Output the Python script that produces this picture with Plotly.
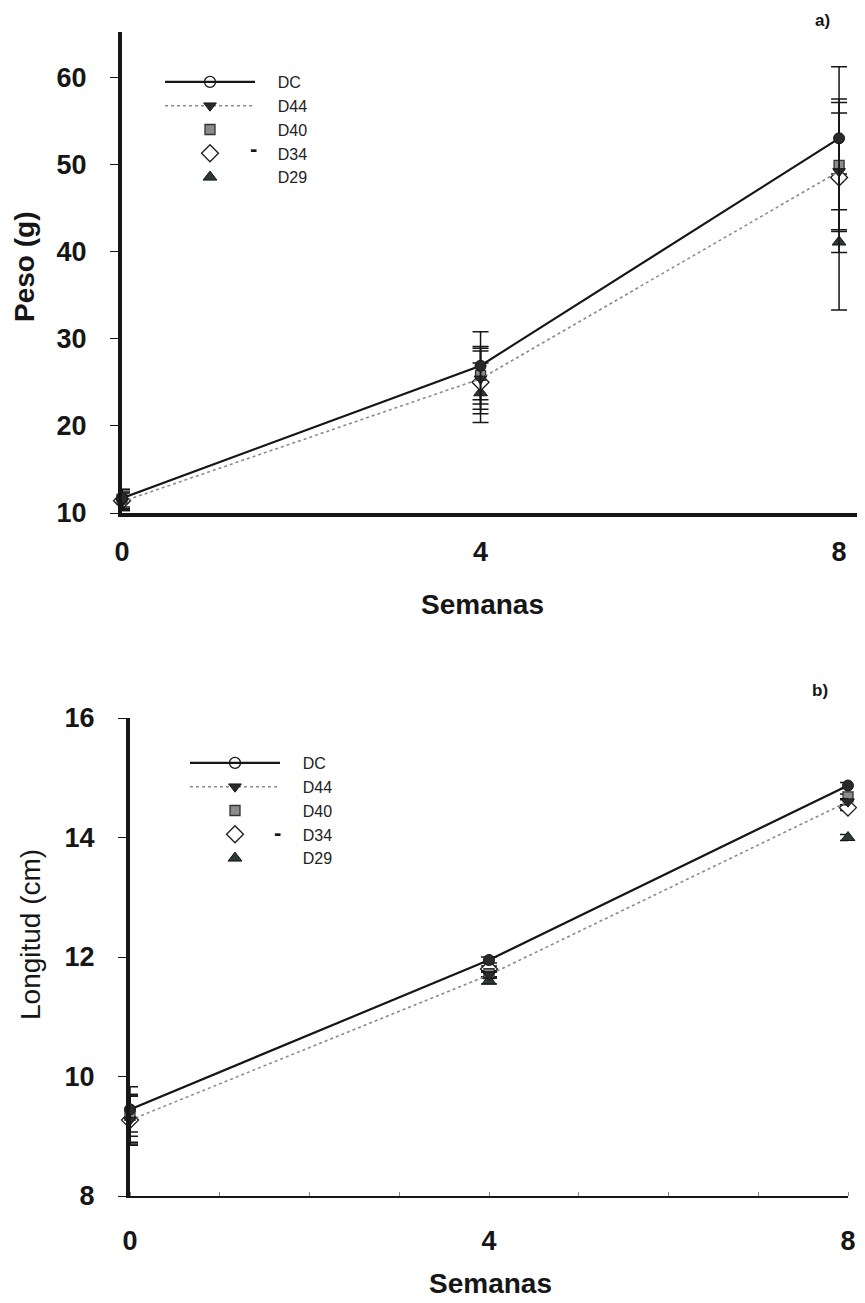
import plotly.graph_objects as go

# ---------------- data ----------------
semanas = [0, 4, 8]
series = ["DC", "D44", "D40", "D34", "D29"]

# Peso (g)
peso_DC = [11.7, 26.9, 53.0]
peso_D44 = [11.3, 25.4, 49.2]
peso_D40 = [11.6, 25.8, 49.9]
peso_D34 = [11.4, 25.0, 48.5]
peso_D29 = [11.5, 23.8, 41.1]
peso_err_DC = [1.0, 3.9, 8.2]
peso_err_D44 = [1.0, 3.5, 6.7]
peso_err_D40 = [1.1, 3.3, 7.6]
peso_err_D34 = [1.0, 3.6, 8.6]
peso_err_D29 = [1.2, 3.4, 7.8]

# Longitud (cm)
long_DC = [9.45, 11.95, 14.87]
long_D44 = [9.27, 11.70, 14.60]
long_D40 = [9.35, 11.72, 14.68]
long_D34 = [9.27, 11.80, 14.50]
long_D29 = [9.30, 11.60, 14.00]
long_err_DC = [0.38, 0.05, 0.05]
long_err_D44 = [0.40, 0.05, 0.05]
long_err_D40 = [0.35, 0.05, 0.05]
long_err_D34 = [0.42, 0.05, 0.05]
long_err_D29 = [0.40, 0.05, 0.05]

peso_ticks = [10, 20, 30, 40, 50, 60]
long_ticks = [8, 10, 12, 14, 16]
x_ticks = [0, 4, 8]

# ---------------- styles ----------------
W, H = 865, 1303
OFF = 8  # page body margin
FW, FH = W - 2 * OFF, H - OFF
FONT = "Liberation Sans, Arial, sans-serif"
INK = "#161616"

styles = {
    "DC": dict(mode="lines+markers", line=dict(color=INK, width=2.2),
               marker=dict(symbol="circle", size=11, color="#2a2a2a", line=dict(color=INK, width=1))),
    "D44": dict(mode="lines+markers", line=dict(color="#8a8a8a", width=1.6, dash="dot"),
                marker=dict(symbol="triangle-down", size=11, color="#2b2b2b", line=dict(color=INK, width=1))),
    "D40": dict(mode="markers",
                marker=dict(symbol="square", size=10, color="#8c8c8c", line=dict(color="#333", width=1.3))),
    "D34": dict(mode="markers",
                marker=dict(symbol="diamond", size=13, color="white", line=dict(color="#222", width=1.4))),
    "D29": dict(mode="markers",
                marker=dict(symbol="triangle-up", size=12, color="#2b3a33", line=dict(color=INK, width=1))),
}
legend_marker_DC = dict(symbol="circle-open", size=11, color=INK, line=dict(width=1.3))

peso = {"DC": (peso_DC, peso_err_DC), "D44": (peso_D44, peso_err_D44), "D40": (peso_D40, peso_err_D40),
        "D34": (peso_D34, peso_err_D34), "D29": (peso_D29, peso_err_D29)}
longi = {"DC": (long_DC, long_err_DC), "D44": (long_D44, long_err_D44), "D40": (long_D40, long_err_D40),
         "D34": (long_D34, long_err_D34), "D29": (long_D29, long_err_D29)}

PAD = "\u00a0" * 4

fig = go.Figure()

def add_panel(data, xa, ya, legend_name, tag):
    # draw in reverse so DC sits on top
    for name in reversed(series):
        vals, err = data[name]
        st = styles[name]
        fig.add_trace(go.Scatter(
            x=semanas, y=vals, name=name, xaxis=xa, yaxis=ya,
            error_y=dict(type="data", array=err, color=INK, thickness=1.5, width=8),
            showlegend=False, cliponaxis=False, **st))
    # legend entries
    for name in series:
        st = dict(styles[name])
        if name == "DC":
            st = dict(mode="lines+markers", line=styles["DC"]["line"], marker=legend_marker_DC)
        fig.add_trace(go.Scatter(
            x=[None], y=[None], name=PAD + name, xaxis=xa, yaxis=ya, legend=legend_name,
            legendgroup=tag + name, showlegend=True, **st))

add_panel(peso, "x", "y", "legend", "a")
add_panel(longi, "x2", "y2", "legend2", "b")

tickfont = dict(family=FONT, size=27, color=INK, weight="bold")


def frac_x(px):
    return (px - OFF) / FW


def frac_y(py):
    return 1 - (py - OFF) / FH


fig.update_layout(
    width=FW, height=FH, margin=dict(l=0, r=0, t=0, b=0),
    paper_bgcolor="white", plot_bgcolor="white",
    showlegend=True,
    xaxis=dict(domain=[frac_x(122), 1.0], range=[0, 8.2], anchor="y",
               tickvals=x_ticks, ticks="", showgrid=False, zeroline=False,
               showline=True, linecolor=INK, linewidth=3.5, tickfont=tickfont,
               ticklabelstandoff=12, automargin=False),
    yaxis=dict(domain=[frac_y(513), frac_y(32)], range=[10, 65.2], anchor="x",
               tickvals=peso_ticks, ticks="outside", ticklen=8, tickwidth=1.2, tickcolor=INK,
               showgrid=False, zeroline=False, showline=True, linecolor=INK, linewidth=4,
               tickfont=tickfont, ticklabelstandoff=18, automargin=False),
    xaxis2=dict(domain=[frac_x(130), frac_x(848)], range=[0, 8], anchor="y2",
                tickvals=x_ticks, ticks="", showgrid=False, zeroline=False,
                showline=True, linecolor=INK, linewidth=2, tickfont=tickfont,
                ticklabelstandoff=20, automargin=False,
                minor=dict(dtick=1, ticks="inside", ticklen=4, tickcolor="#888", showgrid=False)),
    yaxis2=dict(domain=[frac_y(1196), frac_y(718)], range=[8, 16], anchor="x2",
                tickvals=long_ticks, ticks="outside", ticklen=8, tickwidth=1.2, tickcolor=INK,
                showgrid=False, zeroline=False, showline=True, linecolor=INK, linewidth=4,
                tickfont=tickfont, ticklabelstandoff=18, automargin=False),
    legend=dict(x=frac_x(160), y=frac_y(65), xanchor="left", yanchor="top",
                bgcolor="rgba(0,0,0,0)", font=dict(family=FONT, size=16, color="#222"),
                itemwidth=90, traceorder="grouped", tracegroupgap=0, itemclick=False),
    legend2=dict(x=frac_x(185), y=frac_y(746), xanchor="left", yanchor="top",
                 bgcolor="rgba(0,0,0,0)", font=dict(family=FONT, size=16, color="#222"),
                 itemwidth=90, traceorder="grouped", tracegroupgap=0, itemclick=False),
)

title_font = dict(family=FONT, size=28, color=INK, weight="bold")


def ann(text, px, py, font, angle=0):
    return dict(text=text, x=frac_x(px), y=frac_y(py), xref="paper", yref="paper",
                xanchor="center", yanchor="middle", showarrow=False, textangle=angle, font=font)


annotations = [
    ann("Semanas", 482, 605, title_font),
    ann("Semanas", 490, 1283, title_font),
    ann("Peso (g)", 25, 267, title_font, -90),
    ann("Longitud (cm)", 30, 935, dict(family=FONT, size=28, color=INK), -90),
    ann("a)", 822, 20, dict(family=FONT, size=17, color=INK, weight="bold")),
    ann("b)", 820, 690, dict(family=FONT, size=17, color=INK, weight="bold")),
    ann("-", 253, 149, dict(family=FONT, size=22, color=INK, weight="bold")),
    ann("-", 277, 833, dict(family=FONT, size=22, color=INK, weight="bold")),
]
fig.update_layout(annotations=annotations)

fig.write_html("out.html")
